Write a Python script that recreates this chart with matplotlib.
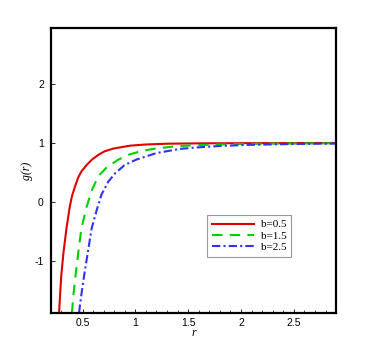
import matplotlib.pyplot as plt
from matplotlib.ticker import MultipleLocator

# values
r_b05 = [0.278, 0.29, 0.30, 0.32, 0.35, 0.38, 0.40, 0.43, 0.46, 0.49, 0.54, 0.59,
         0.65, 0.71, 0.79, 0.87, 0.95, 1.1, 1.3, 1.6, 2.0, 2.5, 2.9]
g_b05 = [-1.87, -1.5, -1.22, -0.85, -0.42, -0.07, 0.10, 0.27, 0.42, 0.52, 0.63, 0.72,
         0.80, 0.86, 0.905, 0.93, 0.955, 0.975, 0.988, 0.994, 0.997, 0.999, 1.0]

r_b15 = [0.40, 0.415, 0.435, 0.46, 0.49, 0.54, 0.59, 0.65, 0.73, 0.84, 0.95, 1.06,
         1.17, 1.36, 1.58, 1.9, 2.3, 2.9]
g_b15 = [-1.87, -1.55, -1.22, -0.85, -0.44, -0.07, 0.21, 0.44, 0.59, 0.72, 0.81, 0.865,
         0.90, 0.94, 0.965, 0.98, 0.99, 0.995]

r_b25 = [0.467, 0.49, 0.517, 0.55, 0.587, 0.635, 0.68, 0.745, 0.81, 0.90, 1.01, 1.20,
         1.42, 1.58, 1.8, 2.1, 2.5, 2.9]
g_b25 = [-1.87, -1.55, -1.22, -0.85, -0.44, -0.13, 0.13, 0.35, 0.49, 0.63, 0.72, 0.83,
         0.90, 0.925, 0.95, 0.97, 0.983, 0.99]

labels = ['b=0.5', 'b=1.5', 'b=2.5']


def main():
    fig = plt.figure(figsize=(3.82, 3.40), dpi=100)
    ax = fig.add_axes([0.133, 0.080, 0.747, 0.837])

    ax.plot(r_b05, g_b05, color='#e00000', lw=1.5, ls='-', label=labels[0])
    ax.plot(r_b15, g_b15, color='#00d000', lw=1.5, ls=(0, (5, 3.5)), label=labels[1])
    ax.plot(r_b25, g_b25, color='#3030ff', lw=1.5, ls=(0, (4, 1.5, 1, 1.5)), label=labels[2])

    ax.set_xlim(0.2, 2.9)
    ax.set_ylim(-1.87, 2.94)
    ax.xaxis.set_minor_locator(MultipleLocator(0.1))
    ax.set_xticks([0.5, 1, 1.5, 2, 2.5])
    ax.set_xticklabels(['0.5', '1', '1.5', '2', '2.5'])
    ax.set_yticks([-1, 0, 1, 2])
    ax.set_yticklabels(['-1', '0', '1', '2'])
    ax.tick_params(which='both', direction='in', labelsize=7.5)
    ax.tick_params(which='major', length=3, width=0.6, pad=4)
    ax.tick_params(which='minor', length=2, width=0.5)
    ax.tick_params(axis='y', pad=5)
    for tl in ax.get_xticklabels() + ax.get_yticklabels():
        tl.set_family('Liberation Sans')
    for s in ax.spines.values():
        s.set_linewidth(1.6)

    ax.set_xlabel('r', family='Liberation Serif', style='italic', fontsize=8.5, labelpad=-1)
    ax.set_ylabel('g(r)', family='Liberation Serif', style='italic', fontsize=8.5, labelpad=1)

    leg = ax.legend(loc='upper left', bbox_to_anchor=(0.548, 0.343), borderaxespad=0,
                    fancybox=False, prop={'family': 'Liberation Serif', 'size': 8},
                    handlelength=3.8, handletextpad=0.6, borderpad=0.4,
                    labelspacing=0.15)
    leg.get_frame().set_edgecolor('#808080')
    leg.get_frame().set_linewidth(0.8)

    fig.savefig('out.png', dpi=100)


if __name__ == '__main__':
    main()
